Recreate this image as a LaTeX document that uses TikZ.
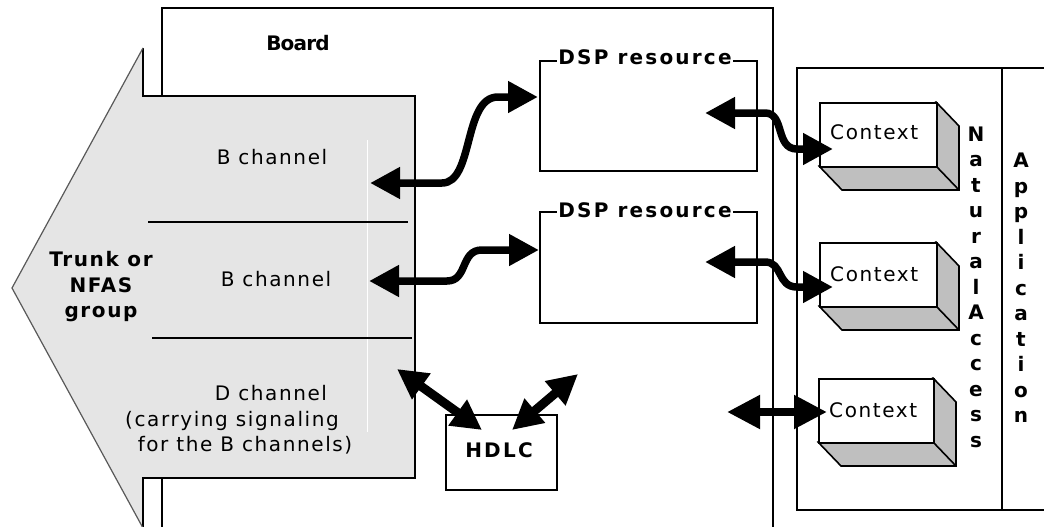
\documentclass[tikz,border=0pt]{standalone}
\usepackage{fontspec}
\setmainfont{DejaVu Sans}[LetterSpace=8]
\newfontfamily\widefont{DejaVu Sans}[LetterSpace=11]
\newfontfamily\tightfont{DejaVu Sans}[LetterSpace=-4]
\usetikzlibrary{arrows.meta}

\tikzset{
  lbl/.style={font=\fontsize{20}{25.5}\selectfont, inner sep=0pt},
  boxline/.style={draw, line width=1.6pt},
  framebox/.style={boxline, fill=white, inner sep=0pt, anchor=north west},
  bigtip/.tip={Triangle[length=30pt,width=30pt]},
  hugetip/.tip={Triangle[length=33pt,width=32pt]},
  biarrow/.style={line width=7.5pt, bigtip-bigtip},
  straightarrow/.style={line width=8pt, hugetip-hugetip},
  diagarrow/.style={line width=9pt, bigtip-bigtip},
  sideface/.style={draw, line width=1.6pt, fill=black!25, line join=miter},
}

\begin{document}
\begin{tikzpicture}[x=1pt, y=-1pt]
\clip (0,0) rectangle (1044,527);
\fill[white] (0,0) rectangle (1044,527);

% board outline (runs off the lower edge)
\draw[line width=1.8pt] (162,8) rectangle (773,560);
\node[lbl, anchor=base] (board) at (298,51) {\tightfont\bfseries Board};

% trunk arrow
\fill[black!10] (415,96) -- (143,96) -- (143,48) -- (12,288) -- (143,528)
  -- (143,478) -- (415,478) -- cycle;
\draw[line width=1.6pt] (143,48) -- (143,96) -- (415,96) -- (415,478) -- (143,478) -- (143,528);
\draw[black!65, line width=1.2pt] (143,48) -- (12,288) -- (143,528);
\draw[white, line width=1pt] (367,140) -- (367,432);
\draw[line width=1.2pt] (148,222) -- (408,222);
\draw[line width=1.2pt] (152,338) -- (412,338);

\node[lbl, anchor=base] (bch1) at (272,164) {B channel};
\node[lbl, anchor=base] (bch2) at (276,286) {B channel};
\node[lbl, align=center] (trunk) at (101,287) {\bfseries Trunk or\\\bfseries NFAS\\\bfseries group};
\node[lbl, anchor=base] (dch1) at (271,400) {D channel};
\node[lbl, anchor=base] (dch2) at (232,426) {(carrying signaling};
\node[lbl, anchor=base] (dch3) at (245,451) {for the B channels)};

% DSP resources
\node[framebox, minimum width=217pt, minimum height=110pt] (dsp1) at (539,60) {};
\node[lbl, fill=white, inner xsep=1pt, inner ysep=2pt, anchor=base] (dsp1t) at (645,65) {\widefont\bfseries DSP resource};
\node[framebox, minimum width=217pt, minimum height=111pt] (dsp2) at (539,211) {};
\node[lbl, fill=white, inner xsep=1pt, inner ysep=2pt, anchor=base] (dsp2t) at (645,217) {\widefont\bfseries DSP resource};

% HDLC
\node[framebox, minimum width=111pt, minimum height=75pt] (hdlc) at (445,414) {};
\node[lbl, anchor=base] (hdlct) at (499,457) {\widefont\bfseries HDLC};

% NaturalAccess / Application frame
\draw[line width=1.6pt] (797,68) rectangle (1060,510);
\draw[line width=1.6pt] (1002,68) -- (1002,510);
\node[lbl, align=center] (natacc) at (976,287) {\bfseries N\\\bfseries a\\\bfseries t\\\bfseries u\\\bfseries r\\\bfseries a\\\bfseries l\\\bfseries A\\\bfseries c\\\bfseries c\\\bfseries e\\\bfseries s\\\bfseries s};
\node[lbl, align=center] (appl) at (1021,288) {\bfseries A\\\bfseries p\\\bfseries p\\\bfseries l\\\bfseries i\\\bfseries c\\\bfseries a\\\bfseries t\\\bfseries i\\\bfseries o\\\bfseries n};

% contexts drawn as blocks
\foreach \n/\x/\y/\w in {1/819/102/117, 2/819/242/117, 3/818/378/115}{
  \draw[sideface] (\x+\w,\y) -- ++(23,24) -- ++(0,64) -- ++(-\w,0) -- (\x,\y+64) -- cycle;
  \draw[line width=1.6pt] (\x+\w,\y+64) -- ++(23,24);
  \node[framebox, minimum width=\w pt, minimum height=64pt] (ctx\n) at (\x,\y) {};
}
\node[lbl, anchor=base west] (ctx1t) at (830,139) {Context};
\node[lbl, anchor=base west] (ctx2t) at (830,281) {Context};
\node[lbl, anchor=base west] (ctx3t) at (829,417) {Context};

% connector end points
\coordinate (b1) at (370,183);
\coordinate (d1in) at (538,97);
\coordinate (b2) at (369,281);
\coordinate (d2in) at (539,250);
\coordinate (d1out) at (705,113);
\coordinate (c1in) at (833,149);
\coordinate (d2out) at (705,262);
\coordinate (c2in) at (833,287);
\coordinate (c3out) at (727,412);
\coordinate (c3in) at (827,412);
\coordinate (dch) at (397,369);
\coordinate (hdlcl) at (482,430);
\coordinate (hdlcr) at (512,430);
\coordinate (hdlcup) at (578,374);

% connectors
\draw[biarrow] (b1) -- ++(72,0) .. controls ++(32,0) and ++(-35,0) .. ([xshift=-40pt]d1in) -- (d1in);
\draw[biarrow] (b2) -- ++(78,0) .. controls ++(21,0) and ++(-22,0) .. ([xshift=-57pt]d2in) -- (d2in);
\draw[biarrow] (d1out) -- ++(60,0) .. controls ++(20,0) and ++(-22,0) .. ([xshift=-36pt]c1in) -- (c1in);
\draw[biarrow] (d2out) -- ++(60,0) .. controls ++(18,0) and ++(-20,0) .. ([xshift=-36pt]c2in) -- (c2in);
\draw[straightarrow] (c3out) -- (c3in);
\draw[diagarrow] (dch) -- (hdlcl);
\draw[diagarrow] (hdlcr) -- (hdlcup);
\end{tikzpicture}
\end{document}
